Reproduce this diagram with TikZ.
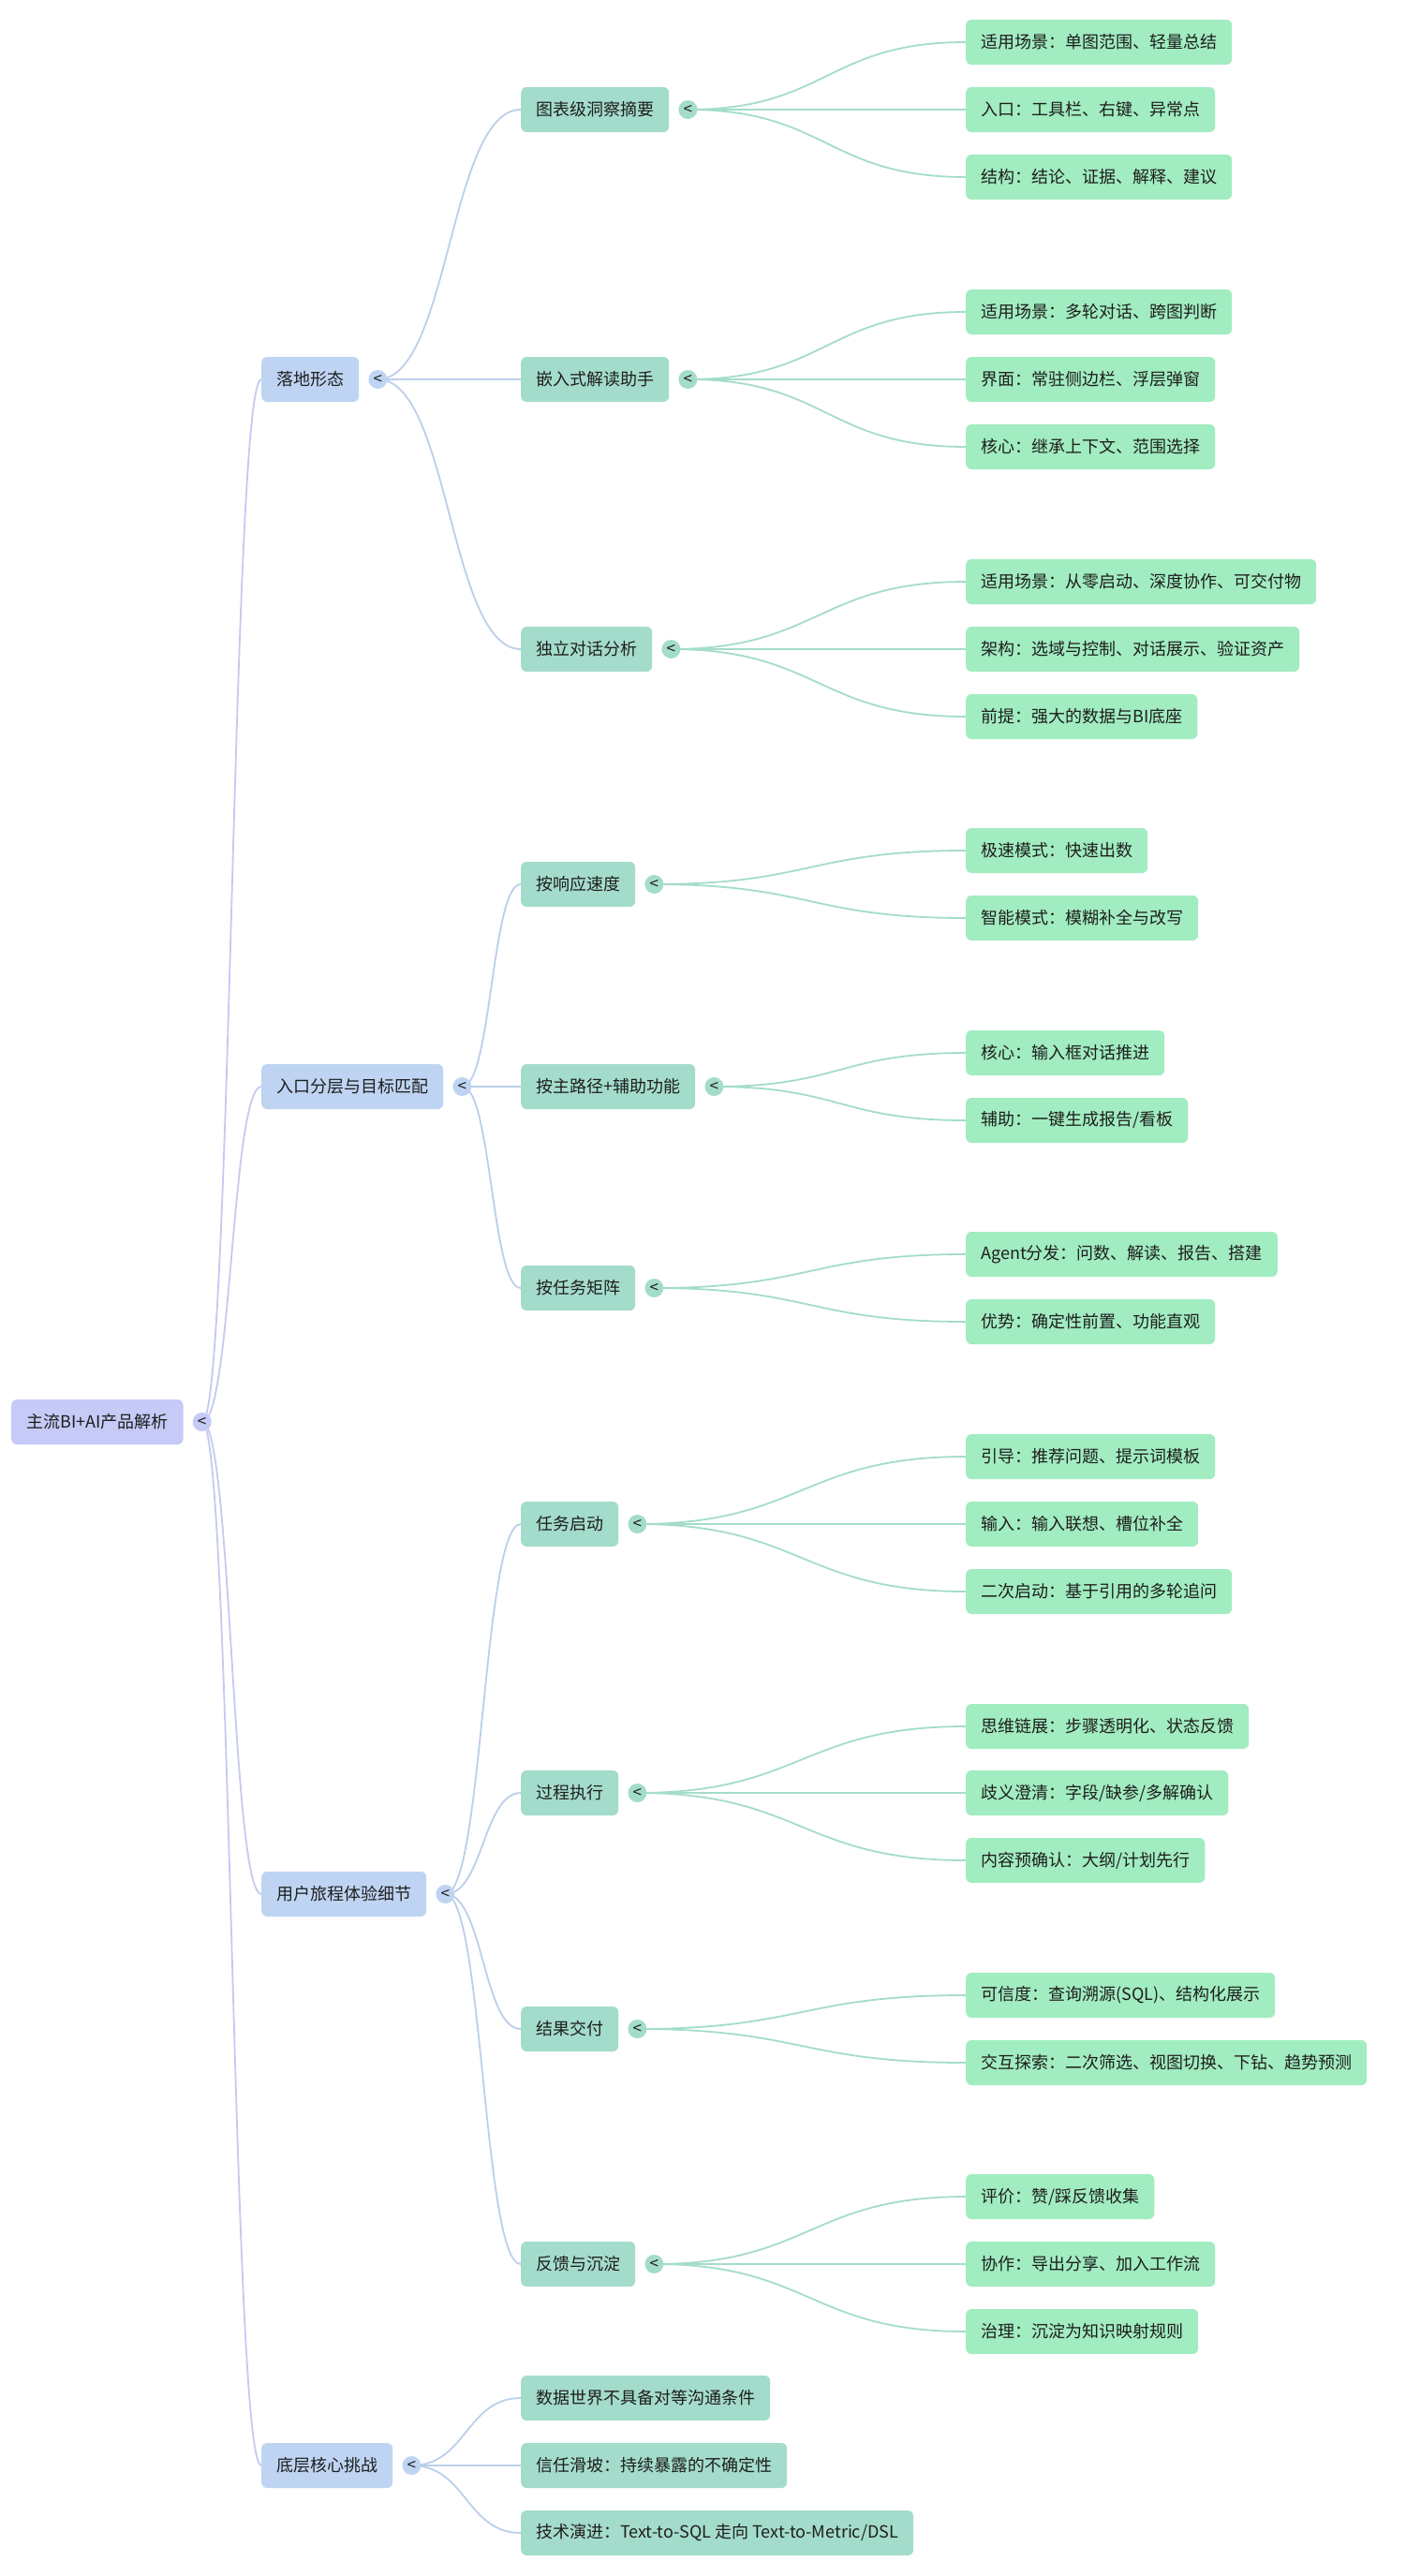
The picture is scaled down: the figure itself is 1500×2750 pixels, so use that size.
\documentclass[tikz,border=0pt]{standalone}
\usepackage{fontspec}
\setmainfont{Noto Sans CJK SC}
\usetikzlibrary{calc}
\pgfdeclarelayer{bg}
\pgfsetlayers{bg,main}
\definecolor{rootc}{HTML}{C5CAF7}
\definecolor{lonec}{HTML}{BED4F2}
\definecolor{ltwoc}{HTML}{A4DCCC}
\definecolor{leafc}{HTML}{A1ECC0}
\definecolor{linkroot}{HTML}{C5CAF0}
\definecolor{linkone}{HTML}{BCCFEA}
\definecolor{linktwo}{HTML}{A4DCCC}
\definecolor{textc}{HTML}{1E1E1E}
\tikzset{
  x=1pt, y=-1pt,
  box/.style={rounded corners=6pt, minimum height=48pt, inner xsep=16pt, inner ysep=0pt,
    anchor=west, font=\fontsize{18pt}{22pt}\selectfont, text=textc},
  rootbox/.style={box, fill=rootc},
  onebox/.style={box, fill=lonec},
  twobox/.style={box, fill=ltwoc},
  leafbox/.style={box, fill=leafc},
  tog/.style={circle, minimum size=20pt, inner sep=0pt, text=textc,
    font=\fontsize{17pt}{17pt}\selectfont},
  lnk/.style={line width=1.8pt, line cap=round},
  lnkroot/.style={lnk, draw=linkroot},
  lnkone/.style={lnk, draw=linkone},
  lnktwo/.style={lnk, draw=linktwo},
}
\newcommand\mmlink[3]{%
  \path (#2.center) -- coordinate[pos=0.5] (mmmid) (#3.west);
  \draw[#1] (#2.center) .. controls (#2.center -| mmmid) and (#3.west -| mmmid) .. (#3.west);}
\begin{document}
\begin{tikzpicture}
\useasboundingbox (0,0) rectangle (1500,2750);

% root
\node[rootbox] (root) at (12,1518) {主流BI+AI产品解析};
\node[tog, fill=rootc] (troot) at ($(root.east)+(20,0)$) {<};

% level 1
\node[onebox] (a) at (279,405) {落地形态};
\node[onebox] (b) at (279,1160) {入口分层与目标匹配};
\node[onebox] (c) at (279,2022) {用户旅程体验细节};
\node[onebox] (d) at (279,2632) {底层核心挑战};
\foreach \n in {a,b,c,d} {\node[tog, fill=lonec] (t\n) at ($(\n.east)+(20,0)$) {<};}

% level 2
\node[twobox] (a1) at (556,117) {图表级洞察摘要};
\node[twobox] (a2) at (556,405) {嵌入式解读助手};
\node[twobox] (a3) at (556,693) {独立对话分析};
\node[twobox] (b1) at (556,944) {按响应速度};
\node[twobox] (b2) at (556,1160) {按主路径+辅助功能};
\node[twobox] (b3) at (556,1375) {按任务矩阵};
\node[twobox] (c1) at (556,1627) {任务启动};
\node[twobox] (c2) at (556,1914) {过程执行};
\node[twobox] (c3) at (556,2166) {结果交付};
\node[twobox] (c4) at (556,2417) {反馈与沉淀};
\node[twobox] (d1) at (556,2560) {数据世界不具备对等沟通条件};
\node[twobox] (d2) at (556,2632) {信任滑坡：持续暴露的不确定性};
\node[twobox] (d3) at (556,2704) {技术演进：Text-to-SQL 走向 Text-to-Metric/DSL};
\foreach \n in {a1,a2,a3,b1,b2,b3,c1,c2,c3,c4} {\node[tog, fill=ltwoc] (t\n) at ($(\n.east)+(20,0)$) {<};}

% leaves
\node[leafbox] (a1x) at (1031,45) {适用场景：单图范围、轻量总结};
\node[leafbox] (a1y) at (1031,117) {入口：工具栏、右键、异常点};
\node[leafbox] (a1z) at (1031,189) {结构：结论、证据、解释、建议};
\node[leafbox] (a2x) at (1031,333) {适用场景：多轮对话、跨图判断};
\node[leafbox] (a2y) at (1031,405) {界面：常驻侧边栏、浮层弹窗};
\node[leafbox] (a2z) at (1031,477) {核心：继承上下文、范围选择};
\node[leafbox] (a3x) at (1031,621) {适用场景：从零启动、深度协作、可交付物};
\node[leafbox] (a3y) at (1031,693) {架构：选域与控制、对话展示、验证资产};
\node[leafbox] (a3z) at (1031,765) {前提：强大的数据与BI底座};
\node[leafbox] (b1x) at (1031,908) {极速模式：快速出数};
\node[leafbox] (b1y) at (1031,980) {智能模式：模糊补全与改写};
\node[leafbox] (b2x) at (1031,1124) {核心：输入框对话推进};
\node[leafbox] (b2y) at (1031,1196) {辅助：一键生成报告/看板};
\node[leafbox] (b3x) at (1031,1339) {Agent分发：问数、解读、报告、搭建};
\node[leafbox] (b3y) at (1031,1411) {优势：确定性前置、功能直观};
\node[leafbox] (c1x) at (1031,1555) {引导：推荐问题、提示词模板};
\node[leafbox] (c1y) at (1031,1627) {输入：输入联想、槽位补全};
\node[leafbox] (c1z) at (1031,1699) {二次启动：基于引用的多轮追问};
\node[leafbox] (c2x) at (1031,1843) {思维链展：步骤透明化、状态反馈};
\node[leafbox] (c2y) at (1031,1914) {歧义澄清：字段/缺参/多解确认};
\node[leafbox] (c2z) at (1031,1986) {内容预确认：大纲/计划先行};
\node[leafbox] (c3x) at (1031,2130) {可信度：查询溯源(SQL)、结构化展示};
\node[leafbox] (c3y) at (1031,2202) {交互探索：二次筛选、视图切换、下钻、趋势预测};
\node[leafbox] (c4x) at (1031,2345) {评价：赞/踩反馈收集};
\node[leafbox] (c4y) at (1031,2417) {协作：导出分享、加入工作流};
\node[leafbox] (c4z) at (1031,2489) {治理：沉淀为知识映射规则};

\begin{pgfonlayer}{bg}
  \fill[white] (0,0) rectangle (1500,2750);
  \foreach \n in {a,b,c,d} {\mmlink{lnkroot}{troot}{\n}}
  \foreach \n in {a1,a2,a3} {\mmlink{lnkone}{ta}{\n}}
  \foreach \n in {b1,b2,b3} {\mmlink{lnkone}{tb}{\n}}
  \foreach \n in {c1,c2,c3,c4} {\mmlink{lnkone}{tc}{\n}}
  \foreach \n in {d1,d2,d3} {\mmlink{lnkone}{td}{\n}}
  \foreach \p/\k in {a1/x,a1/y,a1/z,a2/x,a2/y,a2/z,a3/x,a3/y,a3/z,b1/x,b1/y,b2/x,b2/y,b3/x,b3/y,c1/x,c1/y,c1/z,c2/x,c2/y,c2/z,c3/x,c3/y,c4/x,c4/y,c4/z}
    {\mmlink{lnktwo}{t\p}{\p\k}}
\end{pgfonlayer}
\end{tikzpicture}
\end{document}
